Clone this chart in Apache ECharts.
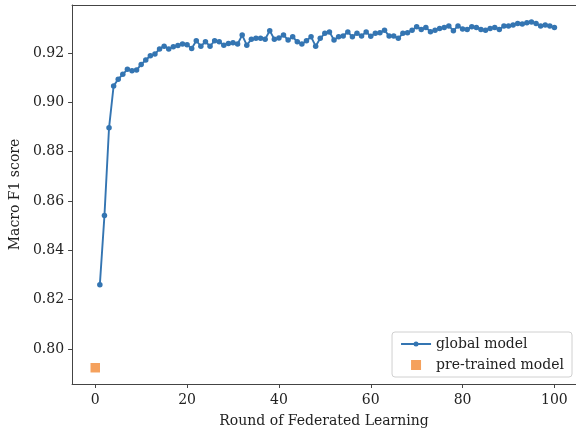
<!DOCTYPE html>
<html>
<head>
<meta charset="utf-8">
<script src="https://cdn.jsdelivr.net/npm/echarts@6/dist/echarts.min.js"></script>
<style>html,body{margin:0;padding:0;background:#fff}#c{width:576px;height:435px}</style>
</head>
<body>
<div id="c"></div>
<script>
const rounds = Array.from({length: 100}, (_, i) => i + 1);
const globalF1 = [
  0.8261, 0.8541, 0.8897, 0.9067, 0.9094, 0.9114, 0.9134, 0.9128, 0.9131, 0.9154,
  0.9172, 0.9189, 0.9196, 0.9217, 0.9228, 0.9217, 0.9226, 0.9231, 0.9237, 0.9234,
  0.9219, 0.9250, 0.9228, 0.9246, 0.9228, 0.9250, 0.9246, 0.9232, 0.9239, 0.9242,
  0.9237, 0.9273, 0.9232, 0.9256, 0.9260, 0.9260, 0.9256, 0.9291, 0.9256, 0.9261,
  0.9273, 0.9253, 0.9266, 0.9246, 0.9237, 0.9250, 0.9266, 0.9228, 0.9260, 0.9280,
  0.9286, 0.9253, 0.9266, 0.9269, 0.9286, 0.9266, 0.9280, 0.9269, 0.9286, 0.9268,
  0.9280, 0.9282, 0.9293, 0.9269, 0.9269, 0.9260, 0.9280, 0.9282, 0.9293, 0.9307,
  0.9296, 0.9304, 0.9287, 0.9293, 0.9300, 0.9304, 0.9310, 0.9291, 0.9310, 0.9298,
  0.9296, 0.9307, 0.9304, 0.9296, 0.9293, 0.9300, 0.9304, 0.9296, 0.9310, 0.9310,
  0.9314, 0.9320, 0.9318, 0.9323, 0.9326, 0.9320, 0.9310, 0.9314, 0.9310, 0.9304
];
const pretrainedRound = [0];
const pretrainedF1 = [0.7924];
const xTicks = [0, 20, 40, 60, 80, 100];
const yTicks = [0.80, 0.82, 0.84, 0.86, 0.88, 0.90, 0.92];

const font = 'DejaVu Serif';
const txt = '#222';
const spine = '#444';
const chart = echarts.init(document.getElementById('c'), null, {renderer: 'canvas'});
chart.setOption({
  animation: false,
  backgroundColor: '#fff',
  grid: {left: 71, top: 5, right: 0, bottom: 51},
  xAxis: [{
    type: 'value', min: -5.05, max: 104.7,
    name: 'Round of Federated Learning', nameLocation: 'middle', nameGap: 30,
    nameTextStyle: {fontFamily: font, fontSize: 14, color: txt},
    axisLine: {show: true, onZero: false, lineStyle: {color: spine, width: 1}},
    axisTick: {show: true, length: 4, customValues: xTicks, lineStyle: {color: spine}},
    axisLabel: {customValues: xTicks, margin: 9, fontFamily: font, fontSize: 14, color: txt},
    splitLine: {show: false}
  }, {
    type: 'value', position: 'top', min: -5.05, max: 104.7,
    axisLine: {show: true, onZero: false, lineStyle: {color: spine, width: 1}},
    axisTick: {show: false}, axisLabel: {show: false}, splitLine: {show: false}
  }],
  yAxis: {
    type: 'value', min: 0.7858, max: 0.9395,
    name: 'Macro F1 score', nameLocation: 'middle', nameGap: 48, nameRotate: 90,
    nameTextStyle: {fontFamily: font, fontSize: 14, color: txt},
    axisLine: {show: true, onZero: false, lineStyle: {color: spine, width: 1}},
    axisTick: {show: true, length: 4, customValues: yTicks, lineStyle: {color: spine}},
    axisLabel: {customValues: yTicks, margin: 8, fontFamily: font, fontSize: 14, color: txt,
      formatter: v => v.toFixed(2)},
    splitLine: {show: false}
  },
  legend: {
    orient: 'vertical', right: 4, bottom: 58,
    backgroundColor: 'rgba(255,255,255,0.85)', borderColor: '#d0d0d0', borderWidth: 1, borderRadius: 3,
    padding: [5, 8, 5, 9], itemGap: 7, itemWidth: 30, itemHeight: 10,
    textStyle: {fontFamily: font, fontSize: 14, color: txt},
    data: [
      {name: 'global model', icon: 'path://M0,2.1h13v1.8h-13z M17,2.1h13v1.8h-13z M12.5,3a2.5,2.5 0 1,1 5,0a2.5,2.5 0 1,1 -5,0z'},
      {name: 'pre-trained model', icon: 'path://M0,0h10v10h-10z'}
    ]
  },
  series: [
    {
      name: 'global model', type: 'line', xAxisIndex: 0,
      data: rounds.map((r, i) => [r, globalF1[i]]),
      symbol: 'circle', symbolSize: 5.5, showSymbol: true,
      lineStyle: {color: '#3475b2', width: 1.9},
      itemStyle: {color: '#3475b2'}
    },
    {
      name: 'pre-trained model', type: 'scatter', xAxisIndex: 0,
      data: pretrainedRound.map((r, i) => [r, pretrainedF1[i]]),
      symbol: 'rect', symbolSize: 9.5,
      itemStyle: {color: '#f28a35'}
    }
  ]
});
</script>
</body>
</html>
